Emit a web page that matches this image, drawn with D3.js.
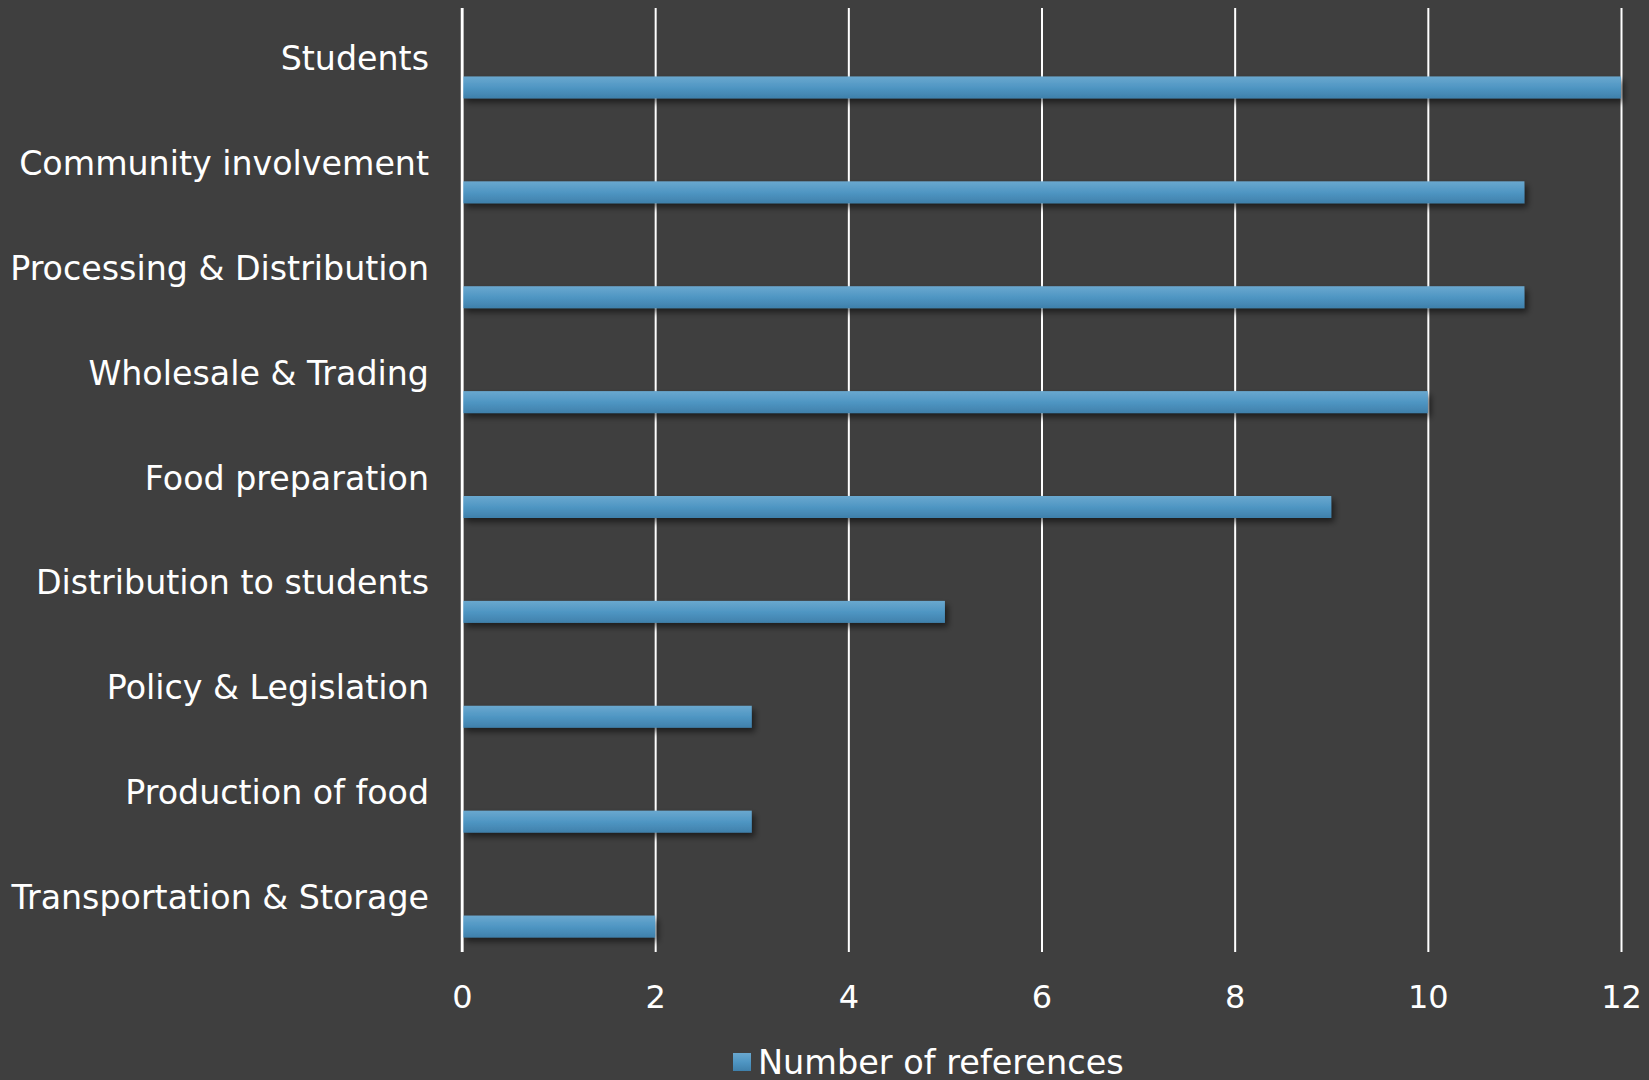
<!DOCTYPE html>
<html><head><meta charset="utf-8">
<script src="https://cdn.jsdelivr.net/npm/d3@7"></script>
<style>
html,body{margin:0;padding:0;background:#3f3f3f;}
svg{display:block;}
text{font-family:"DejaVu Sans","Noto Sans",sans-serif;fill:#ffffff;}
</style></head>
<body>
<svg id="chart" width="1649" height="1080"></svg>
<script>
const categories = ["Students","Community involvement","Processing & Distribution","Wholesale & Trading","Food preparation","Distribution to students","Policy & Legislation","Production of food","Transportation & Storage"];
const values = [12,11,11,10,9,5,3,3,2];
const tickValues = [0,2,4,6,8,10,12];
const seriesName = "Number of references";

const W = 1649, H = 1080;
const margin = {left:462, right:28, top:8, bottom:128};
const svg = d3.select("#chart");

const defs = svg.append("defs");
const grad = defs.append("linearGradient").attr("id","barGrad").attr("x1",0).attr("y1",0).attr("x2",0).attr("y2",1);
grad.append("stop").attr("offset","0%").attr("stop-color","#6aa8cf");
grad.append("stop").attr("offset","50%").attr("stop-color","#4f96c3");
grad.append("stop").attr("offset","100%").attr("stop-color","#3f80ab");
const flt = defs.append("filter").attr("id","shadow").attr("x","-5%").attr("y","-50%").attr("width","110%").attr("height","250%");
flt.append("feDropShadow").attr("dx",3).attr("dy",4).attr("stdDeviation",3).attr("flood-color","#000").attr("flood-opacity",0.55);

const x = d3.scaleLinear().domain([0,12]).range([margin.left, W - margin.right]);
const y = d3.scaleBand().domain(categories).range([margin.top, H - margin.bottom]);

// grid lines
const xAxis = d3.axisBottom(x).tickValues(tickValues).tickSize(-(H - margin.bottom - margin.top)).tickPadding(33).tickFormat(d3.format("d"));
const gx = svg.append("g").attr("transform",`translate(0,${H - margin.bottom})`).call(xAxis);
gx.select(".domain").remove();
gx.selectAll(".tick line").attr("stroke","#ffffff").attr("stroke-width",2);
gx.selectAll(".tick text").attr("font-size",32).attr("fill","#ffffff").style("font-family","DejaVu Sans, sans-serif");

// bars
const bh = 22, off = 27;
svg.append("g").selectAll("rect").data(values).join("rect")
  .attr("x", x(0)+1)
  .attr("y", (d,i)=> y(categories[i]) + y.bandwidth()/2 + off - bh/2)
  .attr("width", d => x(d) - x(0) - 1)
  .attr("height", bh)
  .attr("fill","url(#barGrad)")
  .attr("filter","url(#shadow)");

// axis line at 0 (on top)
svg.append("line").attr("x1",x(0)).attr("x2",x(0)).attr("y1",margin.top).attr("y2",H-margin.bottom).attr("stroke","#fff").attr("stroke-width",2.5);

// category labels
const lab = svg.append("g").selectAll("text").data(categories).join("text")
  .attr("x", 429)
  .attr("y", d => y(d) + y.bandwidth()/2 - 2)
  .attr("text-anchor","end")
  .attr("dominant-baseline","central")
  .attr("font-size",32)
  .text(d=>d);
const ref = lab.filter(d=>d==="Community involvement").node();
const w = ref.getComputedTextLength();
const fs = 32 * 410 / w;
lab.attr("font-size", fs);

// legend
const lg = svg.append("g");
lg.append("rect").attr("x",733).attr("y",1053).attr("width",18).attr("height",18).attr("fill","url(#barGrad)");
const lt = lg.append("text").attr("x",758).attr("y",1062).attr("dominant-baseline","central").attr("font-size",32).text(seriesName);
const lw = lt.node().getComputedTextLength();
lt.attr("font-size", 32 * 366 / lw);
</script>
</body></html>
